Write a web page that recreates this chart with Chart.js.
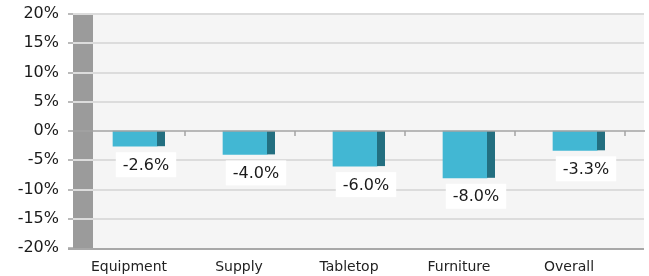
<!DOCTYPE html>
<html>
<head>
<meta charset="utf-8">
<script src="https://cdn.jsdelivr.net/npm/chart.js@4"></script>
<style>
  html, body { margin: 0; padding: 0; background: #ffffff; }
  #c { display: block; }
</style>
</head>
<body>
<canvas id="c" width="649" height="276"></canvas>
<script>
const categories = ['Equipment', 'Supply', 'Tabletop', 'Furniture', 'Overall'];
const changes = [-2.6, -4.0, -6.0, -8.0, -3.3];
const yTickValues = [-20, -15, -10, -5, 0, 5, 10, 15, 20];

const FONT = "'DejaVu Sans', sans-serif";

const decor = {
  id: 'decor',
  beforeDatasetsDraw(chart) {
    const { ctx, chartArea: ca, scales: { y, x } } = chart;
    const wallL = ca.left - 7, wallR = ca.left + 13, R = ca.right + 14;
    ctx.save();
    ctx.fillStyle = '#f5f5f5';
    ctx.fillRect(wallR, ca.top, R - wallR, ca.bottom - ca.top);
    ctx.fillStyle = '#9b9b9b';
    ctx.fillRect(wallL, ca.top, wallR - wallL, ca.bottom - ca.top);
    yTickValues.forEach(v => {
      const py = Math.round(y.getPixelForValue(v));
      if (v !== 0 && v !== -20) {
        ctx.strokeStyle = '#dcdcdc';
        ctx.lineWidth = 2;
        ctx.beginPath(); ctx.moveTo(wallL, py); ctx.lineTo(R, py); ctx.stroke();
      }
      ctx.strokeStyle = '#a3a3a3';
      ctx.lineWidth = 1.5;
      ctx.beginPath(); ctx.moveTo(wallL - 5, py); ctx.lineTo(wallL, py); ctx.stroke();
    });
    const pb = Math.round(y.getPixelForValue(-20));
    ctx.strokeStyle = '#a8a8a8';
    ctx.lineWidth = 2;
    ctx.beginPath(); ctx.moveTo(wallL - 5, pb + 1); ctx.lineTo(R, pb + 1); ctx.stroke();
    ctx.restore();
  },
  afterDatasetsDraw(chart) {
    const { ctx, chartArea: ca, scales: { y, x } } = chart;
    const wallL = ca.left - 7, R = ca.right + 14;
    const meta = chart.getDatasetMeta(0);
    ctx.save();
    meta.data.forEach(bar => {
      const p = bar.getProps(['x', 'y', 'base', 'width'], true);
      ctx.fillStyle = '#236f80';
      ctx.fillRect(p.x + p.width / 2, Math.min(p.y, p.base), 8, Math.abs(p.base - p.y));
    });
    const p0 = Math.round(y.getPixelForValue(0));
    ctx.strokeStyle = '#a3a3a3';
    ctx.lineWidth = 1.5;
    ctx.beginPath(); ctx.moveTo(wallL, p0); ctx.lineTo(R + 1, p0); ctx.stroke();
    const step = x.getPixelForValue(1) - x.getPixelForValue(0);
    categories.forEach((c, i) => {
      const bx = Math.round(x.getPixelForValue(i) + step / 2 - 5);
      ctx.beginPath(); ctx.moveTo(bx, p0); ctx.lineTo(bx, p0 + 5); ctx.stroke();
    });
    ctx.font = '16px ' + FONT;
    ctx.textAlign = 'center';
    ctx.textBaseline = 'middle';
    meta.data.forEach((bar, i) => {
      const p = bar.getProps(['x', 'y'], true);
      const txt = changes[i].toFixed(1) + '%';
      const w = ctx.measureText(txt).width + 14;
      const cx = p.x + 11, top = p.y + 6, h = 25;
      ctx.fillStyle = '#ffffff';
      ctx.fillRect(cx - w / 2, top, w, h);
      ctx.fillStyle = '#1a1a1a';
      ctx.fillText(txt, cx, top + h / 2 + 1);
    });
    ctx.restore();
  }
};

new Chart(document.getElementById('c'), {
  type: 'bar',
  data: {
    labels: categories,
    datasets: [{
      data: changes,
      backgroundColor: '#42b7d3',
      barThickness: 44,
      borderWidth: 0
    }]
  },
  options: {
    responsive: false,
    animation: false,
    devicePixelRatio: 1,
    layout: { padding: { left: 0, right: 19, top: 14, bottom: 0 } },
    plugins: { legend: { display: false }, tooltip: { enabled: false } },
    scales: {
      y: {
        min: -20, max: 20,
        afterFit: s => { s.width = 80; s.paddingTop = 0; s.paddingBottom = 0; },
        grid: { display: false, drawTicks: false },
        border: { display: false },
        ticks: {
          stepSize: 5,
          padding: 21,
          color: '#1a1a1a',
          font: { family: FONT, size: 16 },
          callback: v => v + '%'
        }
      },
      x: {
        afterFit: s => { s.height = 28; s.paddingLeft = 0; s.paddingRight = 0; },
        grid: { display: false, drawTicks: false },
        border: { display: false },
        ticks: {
          padding: 11,
          labelOffset: -6,
          color: '#222222',
          font: { family: FONT, size: 14 }
        }
      }
    }
  },
  plugins: [decor]
});
</script>
</body>
</html>
